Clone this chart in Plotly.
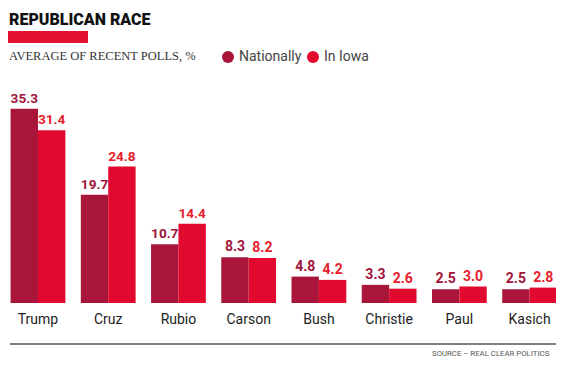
import plotly.graph_objects as go

candidates = ["Trump", "Cruz", "Rubio", "Carson", "Bush", "Christie", "Paul", "Kasich"]
nationally = [35.3, 19.7, 10.7, 8.3, 4.8, 3.3, 2.5, 2.5]
in_iowa = [31.4, 24.8, 14.4, 8.2, 4.2, 2.6, 3.0, 2.8]

OFF = 8  # page body margin
W, H = 564 - OFF, 365 - OFF
# plot area in window pixels: x 8..564, y 83..303
PX0, PX1 = 8, 564
PY0, PY1 = 83, 303
L, R, T, B = PX0 - OFF, 564 - PX1, PY0 - OFF, 365 - PY1
PW, PH = PX1 - PX0, PY1 - PY0

def px(x):
    return (x - PX0) / PW

def py(y):
    return (PY1 - y) / PH

C_NAT = "#a8163a"
C_IOWA = "#e2092f"

fig = go.Figure()
fig.add_trace(go.Bar(
    x=candidates, y=nationally, name="Nationally",
    marker=dict(color=C_NAT, line=dict(width=0)),
    text=[f"{v:.1f}" for v in nationally], textposition="outside",
    textfont=dict(family="Roboto", size=14, color="#a0143a", weight="bold"),
    cliponaxis=False,
))
fig.add_trace(go.Bar(
    x=candidates, y=in_iowa, name="In Iowa",
    marker=dict(color=C_IOWA, line=dict(width=0)),
    text=[f"{v:.1f}" for v in in_iowa], textposition="outside",
    textfont=dict(family="Roboto", size=14, color="#e5202c", weight="bold"),
    cliponaxis=False,
))

annotations = [
    dict(x=px(7), y=py(8), xref="paper", yref="paper", xanchor="left", yanchor="top",
         text="REPUBLICAN RACE", showarrow=False,
         font=dict(family="Roboto", size=16, color="#111", weight=900)),
    dict(x=px(7), y=py(56), xref="paper", yref="paper", xanchor="left", yanchor="middle",
         text="AVERAGE OF RECENT POLLS, %", showarrow=False,
         font=dict(family="Liberation Serif", size=12.5, color="#333")),
    dict(x=px(237), y=py(56), xref="paper", yref="paper", xanchor="left", yanchor="middle",
         text="Nationally", showarrow=False,
         font=dict(family="Roboto", size=14, color="#444")),
    dict(x=px(322), y=py(56), xref="paper", yref="paper", xanchor="left", yanchor="middle",
         text="In Iowa", showarrow=False,
         font=dict(family="Roboto", size=14, color="#444")),
    dict(x=px(552), y=py(353), xref="paper", yref="paper", xanchor="right", yanchor="middle",
         text="SOURCE – REAL CLEAR POLITICS", showarrow=False,
         font=dict(family="Roboto", size=7.8, color="#555")),
]

shapes = [
    dict(type="rect", xref="paper", yref="paper", x0=px(8), x1=px(88), y0=py(31), y1=py(43),
         fillcolor="#e4112f", line=dict(width=0)),
    dict(type="circle", xref="paper", yref="paper", x0=px(222), x1=px(234), y0=py(51), y1=py(63),
         fillcolor=C_NAT, line=dict(width=0)),
    dict(type="circle", xref="paper", yref="paper", x0=px(307), x1=px(319), y0=py(51), y1=py(63),
         fillcolor=C_IOWA, line=dict(width=0)),
    dict(type="line", xref="paper", yref="paper", x0=px(10), x1=px(558), y0=py(344), y1=py(344),
         line=dict(color="#555", width=1.5)),
    dict(type="line", xref="paper", yref="paper", x0=px(558), x1=px(558), y0=py(344), y1=py(360),
         line=dict(color="#555", width=1.5)),
]

fig.update_layout(
    width=W, height=H,
    margin=dict(l=L, r=R, t=T, b=B, pad=0),
    paper_bgcolor="white", plot_bgcolor="white",
    barmode="group", bargap=0.22, bargroupgap=0,
    showlegend=False,
    annotations=annotations, shapes=shapes,
    xaxis=dict(showgrid=False, zeroline=False, showline=False, ticks="",
               range=[-0.427, 7.49],
               tickfont=dict(family="Roboto", size=14, color="#222"),
               ticklabelstandoff=6),
    yaxis=dict(range=[0, 40], visible=False, showgrid=False),
)

fig.write_html("out.html")
